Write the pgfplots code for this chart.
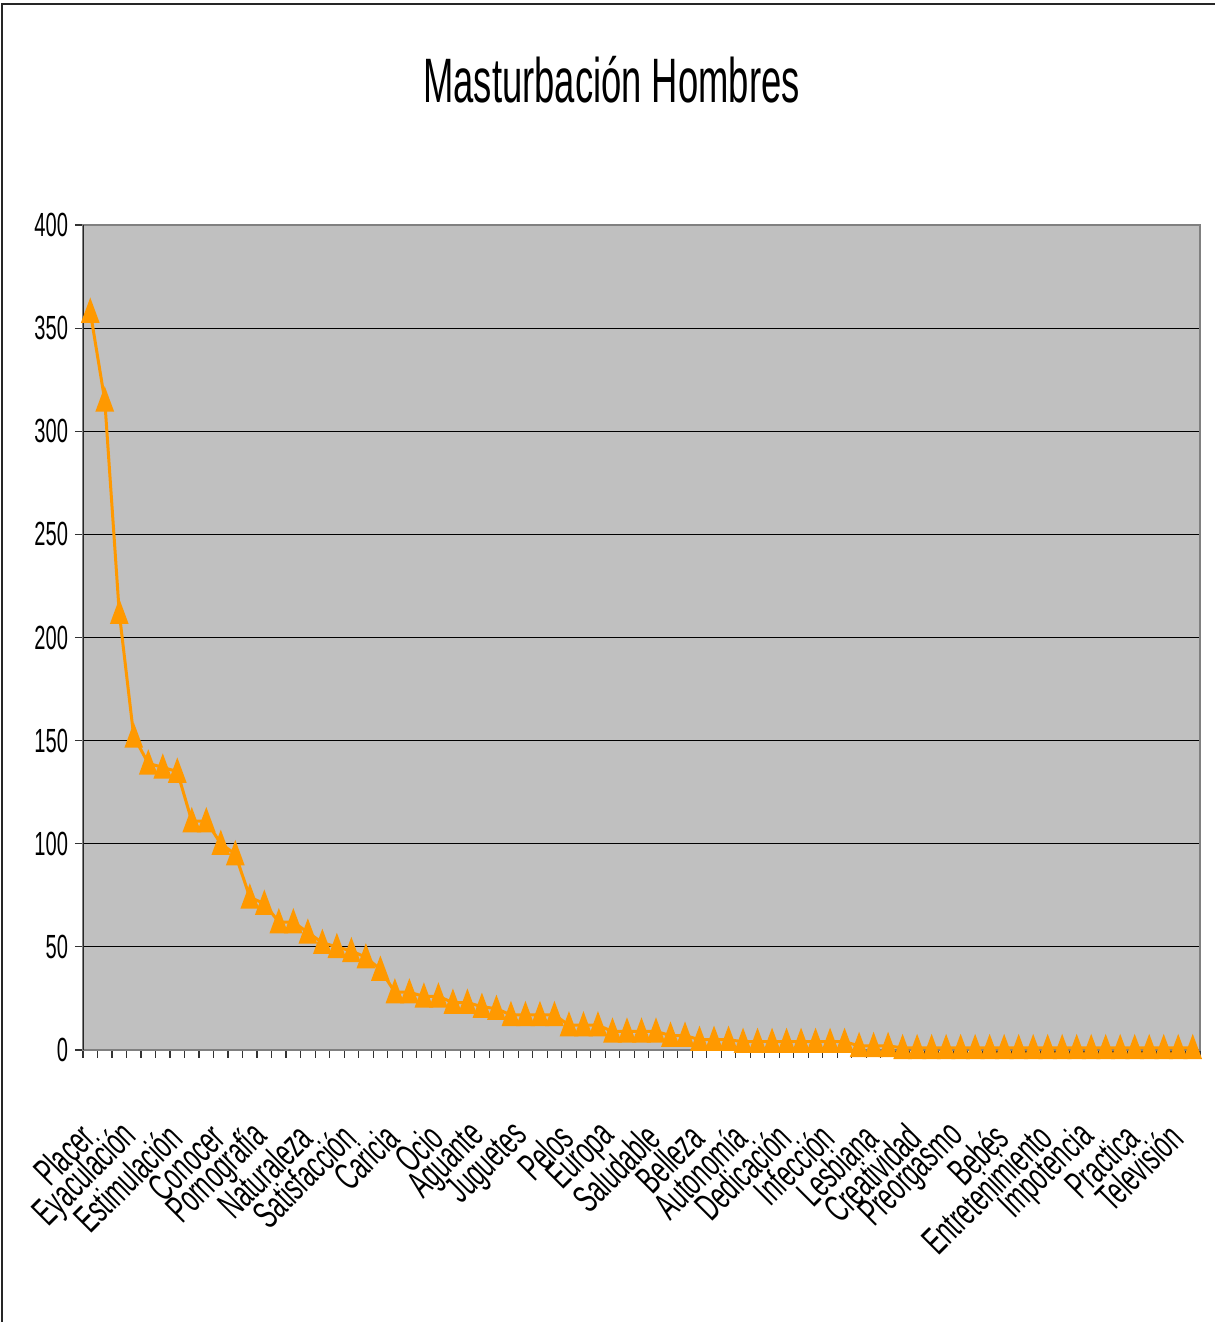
\documentclass[border=0pt]{standalone}
\usepackage{pgfplots}
\pgfplotsset{compat=1.18}
\usepackage{pgfplotstable}
\usepackage{fontspec}
\setmainfont{Liberation Sans}[FakeStretch=0.6]
\newfontfamily\titlefont{Liberation Sans}[FakeStretch=0.58]
\newfontfamily\labelfont{Liberation Sans}

\definecolor{plotgray}{HTML}{C0C0C0}
\definecolor{lineorange}{HTML}{FF9900}
\definecolor{framegray}{HTML}{808080}

% frequency of each word, sorted from most to least frequent
\pgfplotstableread{
x y
0 358
1 315
2 212
3 152
4 139
5 137
6 135
7 111
8 111
9 100
10 95
11 74
12 71
13 62
14 62
15 57
16 52
17 50
18 48
19 45
20 39
21 28
22 28
23 26
24 26
25 23
26 23
27 21
28 20
29 17
30 17
31 17
32 17
33 12
34 12
35 12
36 9
37 9
38 9
39 9
40 7
41 7
42 5
43 5
44 5
45 4
46 4
47 4
48 4
49 4
50 4
51 4
52 4
53 2
54 2
55 2
56 1
57 1
58 1
59 1
60 1
61 1
62 1
63 1
64 1
65 1
66 1
67 1
68 1
69 1
70 1
71 1
72 1
73 1
74 1
75 1
76 1
}\wordtable

\begin{document}
\begin{tikzpicture}[x=1pt,y=1pt]
\useasboundingbox (0,0) rectangle (607.5,661);
% outer chart frame
\draw[line width=1pt, black!85] (1,0) -- (1,659) -- (607.5,659);
\node[font=\titlefont\fontsize{31.4}{36}\selectfont, anchor=center] at (305.75,621.25) {Masturbación Hombres};
\begin{axis}[
  at={(41.5pt,136pt)}, anchor=south west,
  scale only axis, width=558.5pt, height=412.5pt,
  xmin=-0.5, xmax=76.5, ymin=0, ymax=400,
  axis background/.style={fill=plotgray},
  axis line style={framegray, line width=1.2pt},
  % labelled ticks carry no mark; the visible marks are minor ticks
  ytick={0,50,...,400},
  minor ytick={0,50,...,400},
  ymajorgrids, grid style={black, line width=0.5pt},
  xtick={0,3,...,75},
  xticklabels={Placer,Eyaculación,Estimulación,Conocer,Pornografía,Naturaleza,Satisfacción,Caricia,Ocio,Aguante,Juguetes,Pelos,Europa,Saludable,Belleza,Autonomía,Dedicación,Infección,Lesbiana,Creatividad,Preorgasmo,Bebés,Entretenimiento,Impotencia,Practica,Televisión},
  minor xtick={-0.5,0.5,...,76.5},
  tick pos=left,
  tick align=outside,
  major tick length=0pt,
  minor tick length=4pt,
  tick style={black!80, line width=0.6pt},
  xticklabel shift=39pt,
  yticklabel shift=4pt,
  % narrow lettering: squeeze the text, then turn it
  x tick label style={rotate=45, xscale=0.6, anchor=east, font=\labelfont\fontsize{19.5}{21}\selectfont},
  y tick label style={font=\fontsize{16.75}{18}\selectfont},
  /pgf/number format/assume math mode=true,
  clip marker paths=false,
]
% tall triangles, centred on their value
\addplot[lineorange, line width=1.5pt, mark=triangle*,
  mark options={solid, fill=lineorange, draw=lineorange, yshift=-1.6pt, xscale=0.8, yscale=1.25},
  mark size=5.2pt] table[x=x, y=y] {\wordtable};
\draw[black!85, line width=1pt] (rel axis cs:0,0) -- (rel axis cs:0,1);
\end{axis}
\end{tikzpicture}
\end{document}
